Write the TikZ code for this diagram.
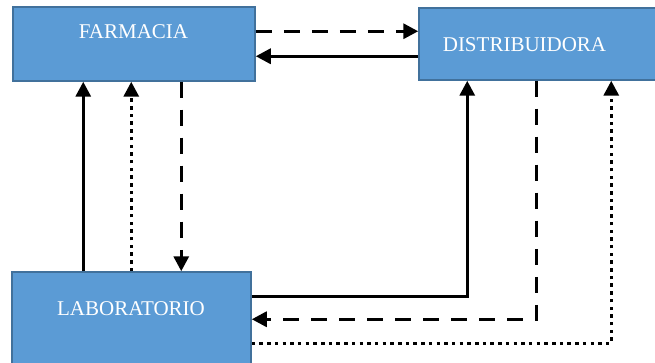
\documentclass[tikz,border=0pt]{standalone}
\usepackage{fontspec}
\setmainfont{Liberation Serif}
\usetikzlibrary{arrows.meta}
\definecolor{boxfill}{HTML}{5B9BD5}
\definecolor{boxline}{HTML}{41719C}
\begin{document}
\begin{tikzpicture}[x=1pt,y=-1pt,
  blockbox/.style={rectangle, draw=boxline, line width=1.5pt, fill=boxfill, inner sep=0pt},
  blocklabel/.style={text=white, font=\fontsize{21}{21}\selectfont, anchor=base, inner sep=0pt},
  flow/.style={line width=3.3pt, line cap=butt, -{Triangle[width=15pt,length=15pt]}},
  dashln/.style={dash pattern=on 16pt off 12pt},
  dotln/.style={dash pattern=on 3.5pt off 4.2pt}]
\clip (0,0) rectangle (655,363);
\fill[white] (0,0) rectangle (655,363);

% blocks
\node[blockbox, minimum width=242pt, minimum height=74pt] (farm) at (134,44) {};
\node[blockbox, minimum width=251pt, minimum height=72pt] (dist) at (544.5,44) {};
\node[blockbox, minimum width=239pt, minimum height=108pt] (lab) at (131.5,326) {};

\node[blocklabel] (farmtxt) at (133.5,39) {FARMACIA};
\node[blocklabel] (disttxt) at (524.5,52) {DISTRIBUIDORA};
\node[blocklabel] (labtxt) at (131,315) {LABORATORIO};

% farmacia <-> distribuidora
\draw[flow,dashln] ([yshift=-25pt]farm.north east) -- ([yshift=-24pt]dist.north west);
\draw[flow] ([yshift=-49pt]dist.north west) -- ([yshift=-50pt]farm.north east);

% laboratorio <-> farmacia
\draw[flow] ([xshift=72pt]lab.north west) -- ([xshift=71pt]farm.south west);
\draw[flow,dotln] ([xshift=120pt]lab.north west) -- ([xshift=119pt]farm.south west);
\draw[flow,dashln] ([xshift=169pt]farm.south west) -- ([xshift=170pt]lab.north west);

% laboratorio <-> distribuidora
\draw[flow] ([yshift=-25pt]lab.north east) -| ([xshift=49pt]dist.south west);
\draw[flow,dashln] ([xshift=118pt]dist.south west) |- ([yshift=-48pt]lab.north east);
\draw[flow,dotln] ([yshift=-72pt]lab.north east) -| ([xshift=193pt]dist.south west);
\end{tikzpicture}
\end{document}
